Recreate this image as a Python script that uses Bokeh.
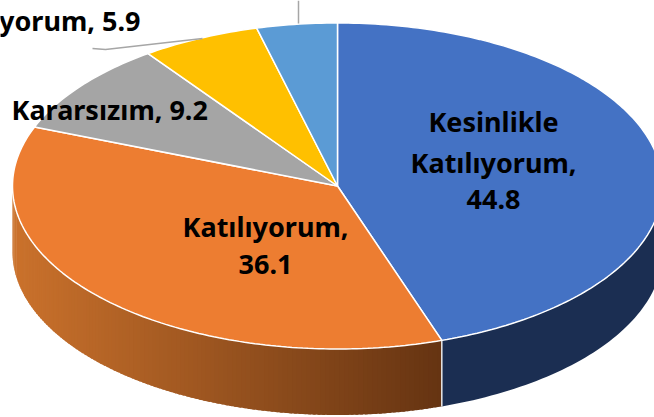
import math
from bokeh.plotting import figure
from bokeh.embed import file_html
from bokeh.resources import INLINE
from bokeh.core.properties import value

categories = ["Kesinlikle Katılıyorum", "Katılıyorum", "Kararsızım", "Katılmıyorum", "Kesinlikle Katılmıyorum"]
values = [44.8, 36.1, 9.2, 5.9, 4.0]
colors = ["#4472C4", "#ED7D31", "#A5A5A5", "#FFC000", "#5B9BD5"]

W, H = 654, 417
cx, cy, rx, ry, depth = 337, 185.5, 325, 163, 66
FONT = value("Noto Sans")


def pt(t, dy=0.0):
    return cx + rx * math.sin(t), cy - ry * math.cos(t) + dy


def mix(a, b, f):
    return "#%02x%02x%02x" % tuple(round(a[i] + (b[i] - a[i]) * f) for i in range(3))


p = figure(width=W, height=H, x_range=(0, W), y_range=(H, 0), toolbar_location=None,
           output_backend="svg", min_border=0, margin=0,
           background_fill_color="white", border_fill_color="white")
p.axis.visible = False
p.grid.visible = False
p.outline_line_color = None

total = sum(values)
angles = [0.0]
for v in values:
    angles.append(angles[-1] + v / total * 2 * math.pi)

# side wall: blue in one piece, orange shaded left to right in overlapping strips
wall_left, wall_right = (203, 114, 44), (102, 52, 18)
n = 60
top = [pt(math.pi / 2 + (angles[1] - math.pi / 2) * k / n) for k in range(n + 1)]
p.patch([q[0] for q in top] + [q[0] for q in reversed(top)],
        [q[1] for q in top] + [q[1] + depth for q in reversed(top)],
        fill_color="#1B2E52", line_color=None)

xe = pt(angles[1])[0]
steps = 130
for i in range(steps):
    t0 = angles[1] + (1.5 * math.pi - angles[1]) * i / steps
    t1 = angles[1] + (1.5 * math.pi - angles[1]) * min(i + 1.6, steps) / steps
    x0, y0 = pt(t0)
    x1, y1 = pt(t1)
    c = mix(wall_right, wall_left, (xe - x0) / (xe - (cx - rx)))
    p.patch([x0, x1, x1, x0], [y0, y1, y1 + depth, y0 + depth], fill_color=c, line_color=None)

# light edge where the two visible wall colours meet
ex, ey = pt(angles[1])
p.line([ex, ex], [ey, ey + depth], line_color="#E8E8E8", line_width=1.5)

# top face
for i, c in enumerate(colors):
    a0, a1 = angles[i], angles[i + 1]
    m = max(2, int((a1 - a0) * 60))
    px, py = [cx], [cy]
    for k in range(m + 1):
        x, y = pt(a0 + (a1 - a0) * k / m)
        px.append(x)
        py.append(y)
    p.patch(px, py, fill_color=c, line_color="white", line_width=1.5)

# leader lines
p.line([92, 105, 202], [48, 49, 38], line_color="#A6A6A6", line_width=1.5)
p.line([298, 298], [0, 23], line_color="#A6A6A6", line_width=1.5)

# labels
labels = [
    (493, 121, "Kesinlikle", "center"),
    (493, 162, "Katılıyorum,", "center"),
    (493, 199, "44.8", "center"),
    (265, 226, "Katılıyorum,", "center"),
    (265, 264, "36.1", "center"),
    (11, 109, "Kararsızım, 9.2", "left"),
    (140, 20, "yorum, 5.9", "right"),
]
for x, y, t, a in labels:
    p.text([x], [y], text=[t], text_align=a, text_baseline="middle", text_color="#000000",
           text_font=FONT, text_font_style="bold", text_font_size="27px")

open("out.html", "w").write(file_html(p, INLINE))
